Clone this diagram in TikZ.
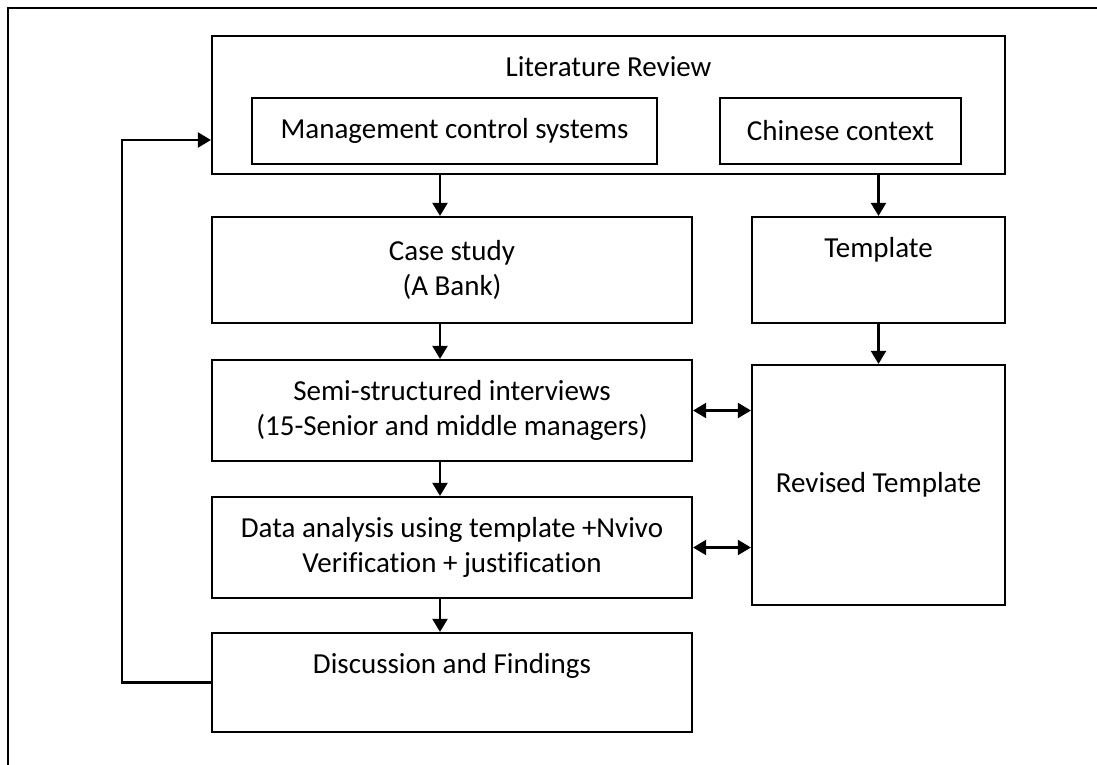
\documentclass[tikz,border=0pt]{standalone}
\usepackage{fontspec}
\setmainfont[Ligatures=NoCommon]{Carlito}
\usetikzlibrary{arrows.meta}
\tikzset{
  box/.style={draw, line width=2.2pt, inner sep=0pt, align=center},
  arr/.style={line width=2.2pt, -{Triangle[length=13pt,width=15pt]}},
  darr/.style={line width=2.2pt, {Triangle[length=13pt,width=15pt]}-{Triangle[length=13pt,width=15pt]}},
  toplabel/.style={anchor=base, yshift=-42pt}
}

\begin{document}
\begin{tikzpicture}[x=1pt,y=-1pt,font=\fontsize{29}{35}\selectfont]
\useasboundingbox (0,0) rectangle (1097,765);
% outer frame
\draw[line width=2.2pt] (8,765) -- (8,8) -- (1097,8);

% boxes
\node[box, minimum width=793pt, minimum height=138pt, label={[toplabel]north:Literature Review}] (lit) at (608.5,105) {};
\node[box, minimum width=405pt, minimum height=66pt] (mcs) at (454.5,131) {Management control systems};
\node[box, minimum width=241pt, minimum height=66pt] (cc) at (840.5,131) {Chinese context};
\node[box, minimum width=480pt, minimum height=106pt] (cs) at (452,270) {Case study\\(A Bank)};
\node[box, minimum width=253pt, minimum height=106pt, label={[toplabel]north:Template}] (tmpl) at (878.5,270) {};
\node[box, minimum width=480pt, minimum height=101pt] (semi) at (452,410.5) {Semi-structured interviews\\(15-Senior and middle managers)};
\node[box, minimum width=480pt, minimum height=101pt] (data) at (452,547.5) {Data analysis using template +Nvivo\\Verification + justification};
\node[box, minimum width=253pt, minimum height=240pt] (rev) at (878.5,485) {Revised Template};
\node[box, minimum width=480pt, minimum height=99pt, label={[toplabel]north:Discussion and Findings}] (disc) at (452,682.5) {};

\coordinate (spine) at (440,0);
\coordinate (fb) at (122,140);

% arrows
\draw[arr] (lit.south -| spine) -- (cs.north -| spine);
\draw[arr] (cs.south -| spine) -- (semi.north -| spine);
\draw[arr] (semi.south -| spine) -- (data.north -| spine);
\draw[arr] (data.south -| spine) -- (disc.north -| spine);
\draw[arr] (lit.south -| tmpl.north) -- (tmpl.north);
\draw[arr] (tmpl.south) -- (rev.north);
\draw[darr] (semi.east) -- (semi.east -| rev.west);
\draw[darr] (data.east) -- (data.east -| rev.west);
\draw[arr] (disc.west) -| (fb) -- (fb -| lit.west);
\end{tikzpicture}
\end{document}
